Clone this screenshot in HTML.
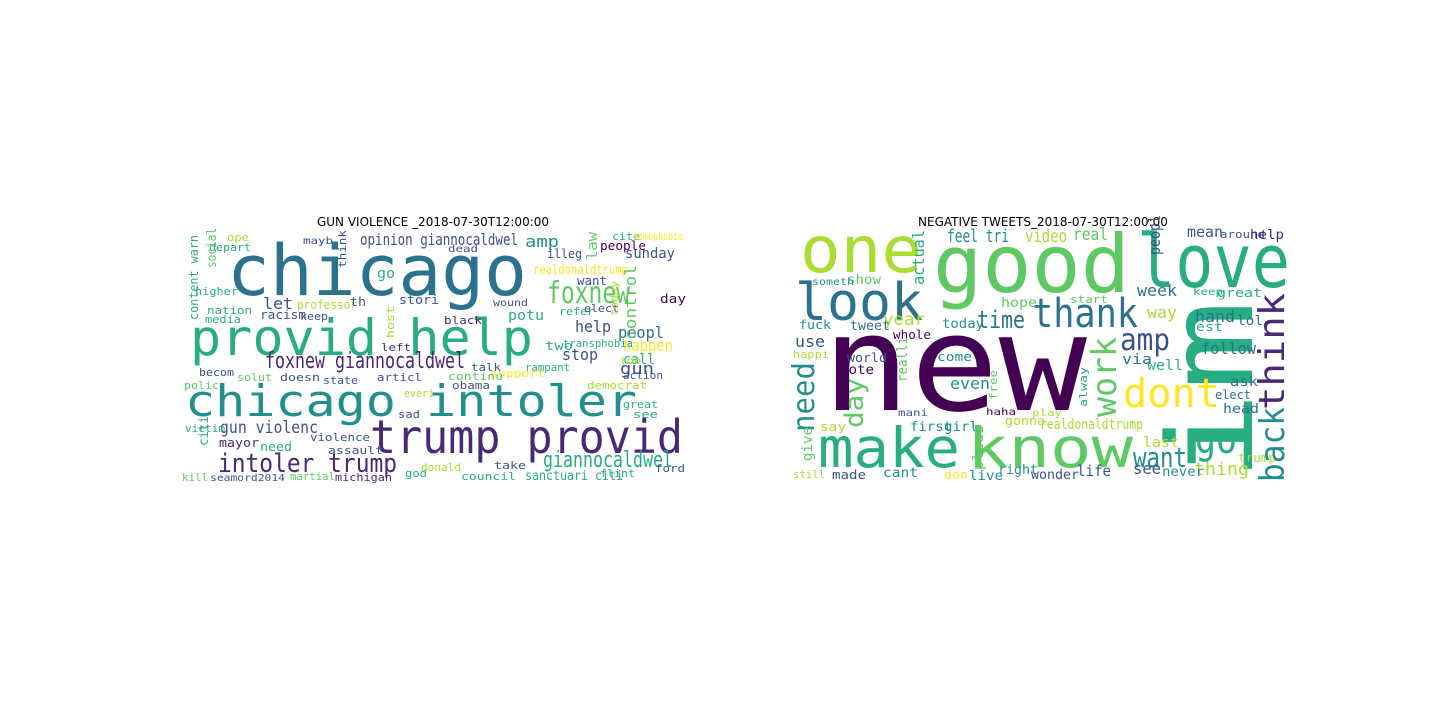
<!DOCTYPE html>
<html><head><meta charset="utf-8"><style>
html,body{margin:0;padding:0;background:#fff;}
svg{display:block}
text{font-family:"DejaVu Sans Mono","Liberation Mono",monospace;}
.t{font-family:"DejaVu Sans","Liberation Sans",sans-serif;font-size:12px;fill:#000}
</style></head><body>
<svg id="s" width="1440" height="720">
<text class="t" x="433" y="226" text-anchor="middle">GUN VIOLENCE _2018-07-30T12:00:00</text>
<text class="t" x="1043" y="226" text-anchor="middle">NEGATIVE TWEETS_2018-07-30T12:00:00</text>
<g id="L"></g>
<g id="R"></g>
</svg>
<script>
// [word, x, y(baseline), size, width, color, rotated]
const P='#440154',B='#3b528b',T='#21908d',TT='#2c728e',G='#27ad81',LG='#5ec962',Y='#fde725',YG='#aadc32',DP='#482878';
const leftWords=[
['chicago',227,295,70,300,TT,0],
['provid help',190,355,50,343,G,0],
['chicago intoler',185,416,44,452,T,0],
['trump provid',370,453,46,313,DP,0],
['intoler trump',218,472,26,179,DP,0],
['foxnew giannocaldwel',265,368,22,200,DP,0],
['foxnew',547,303,30,83,LG,0],
['giannocaldwel',543,467,22,130,G,0],
['gun violenc',220,433,17,98,B,0],
['opinion giannocaldwel',360,245,16,158,B,0],
['realdonaldtrump',533,274,13,95,Y,0],
['amp',525,247,16,34,T,0],
['let',263,309,16,30,B,0],
['help',575,332,16,36,B,0],
['peopl',618,338,16,46,TT,0],
['happen',623,351,16,50,Y,0],
['stop',562,360,16,36,B,0],
['gun',620,374,16,34,B,0],
['call',623,364,14,32,G,0],
['sanctuari citi',525,480,13,98,G,0],
['sunday',625,258,14,50,B,0],
['people',600,250,12,46,P,0],
['professor',297,309,12,60,YG,0],
['racism',260,319,12,46,B,0],
['stori',399,304,12,40,B,0],
['mayor',219,447,12,40,DP,0],
['need',260,451,12,32,G,0],
['assault',328,454,11,55,B,0],
['violence',310,441,11,60,B,0],
['doesn',280,381,11,40,B,0],
['articl',377,381,11,45,B,0],
['democrat',587,389,11,60,YG,0],
['support',490,377,11,55,Y,0],
['continu',448,380,11,55,LG,0],
['obama',452,389,11,38,B,0],
['michigan',335,481,11,57,DP,0],
['martial',290,480,11,45,LG,0],
['seamord2014',210,481,10,75,B,0],
['kill',182,481,11,26,LG,0],
['victim',185,432,11,40,G,0],
['polic',184,389,11,35,LG,0],
['becom',199,376,11,35,B,0],
['solut',237,381,11,35,LG,0],
['media',205,323,11,36,G,0],
['nation',207,314,11,45,G,0],
['higher',195,295,11,43,G,0],
['depart',209,251,11,42,G,0],
['ope',227,241,11,22,YG,0],
['two',545,350,12,28,G,0],
['transphobia',563,347,11,70,G,0],
['rampant',525,371,11,45,G,0],
['potu',508,320,14,36,G,0],
['refer',559,315,11,35,G,0],
['elect',584,312,11,35,B,0],
['want',577,285,12,30,B,0],
['illeg',547,258,12,35,B,0],
['cite',612,240,11,28,G,0],
['homophobia',633,240,11,50,Y,0],
['day',660,303,12,26,P,0],
['action',623,379,11,40,B,0],
['great',623,408,11,35,G,0],
['see',633,418,11,25,G,0],
['ford',655,472,11,30,B,0],
['flint',600,477,11,35,G,0],
['council',461,480,11,55,G,0],
['god',405,477,11,22,G,0],
['donald',421,471,11,40,YG,0],
['take',494,469,11,32,B,0],
['black',444,324,11,38,DP,0],
['left',381,351,11,30,DP,0],
['talk',471,371,11,30,B,0],
['state',323,384,11,35,B,0],
['sad',398,418,11,22,B,0],
['everi',404,397,11,30,YG,0],
['go',377,278,14,18,G,0],
['th',350,306,12,16,B,0],
['keep',300,320,11,28,B,0],
['wound',493,306,10,35,B,0],
['dead',448,252,10,30,B,0],
['mayb',303,244,10,30,B,0],
['job',619,364,10,22,YG,0],
['control',636,340,16,75,LG,1],
['law',597,260,14,28,LG,1],
['social',216,268,13,40,LG,1],
['content warn',198,320,12,85,G,1],
['citi',208,446,13,30,G,1],
['host',394,338,11,32,YG,1],
['think',346,268,11,38,B,1],
['today',618,316,11,35,YG,1]
];
const rightWords=[
['new',822,410,133,265,P,0],
['im',1252,482,118,182,G,1],
['good',933,292,80,197,LG,0],
['love',1137,287,74,153,G,0],
['one',800,272,64,122,YG,0],
['look',795,320,52,128,TT,0],
['thank',1032,327,40,106,TT,0],
['make',818,467,55,142,G,0],
['know',967,467,55,166,LG,0],
['dont',1123,407,40,97,Y,0],
['amp',1120,350,30,50,B,0],
['time',977,328,24,48,TT,0],
['go',1195,453,42,42,G,0],
['want',1133,467,28,54,T,0],
['feel tri',947,242,18,62,T,0],
['video',1025,242,18,42,YG,0],
['real',1073,240,17,35,LG,0],
['year',883,325,17,42,YG,0],
['week',1137,296,16,40,TT,0],
['way',1147,318,16,30,YG,0],
['hand',1195,322,16,40,TT,0],
['lol',1237,325,13,26,TT,0],
['follow',1201,354,16,55,TT,0],
['even',950,389,16,40,T,0],
['see',1133,474,16,28,B,0],
['thing',1194,475,18,55,YG,0],
['life',1077,476,15,34,B,0],
['wonder',1031,479,13,48,B,0],
['right',998,474,13,40,T,0],
['live',969,480,13,34,T,0],
['don',944,479,12,24,Y,0],
['cant',883,477,13,35,T,0],
['made',832,479,12,34,B,0],
['still',793,478,11,32,YG,0],
['first',910,431,13,42,T,0],
['girl',944,431,13,34,T,0],
['realdonaldtrump',1040,429,14,103,YG,0],
['gonna',1005,425,12,40,YG,0],
['last',1143,447,14,36,YG,0],
['never',1162,476,13,42,T,0],
['trump',1238,462,12,38,YG,0],
['head',1223,413,13,36,TT,0],
['elect',1215,399,12,36,TT,0],
['ask',1230,386,13,28,TT,0],
['well',1147,370,14,36,G,0],
['via',1122,364,14,30,TT,0],
['best',1187,331,12,36,G,0],
['great',1217,297,12,45,G,0],
['keep',1193,295,10,30,G,0],
['mean',1187,237,15,36,B,0],
['around',1220,238,11,45,B,0],
['help',1250,239,13,34,DP,0],
['peopl',1160,255,16,40,B,1],
['actual',924,285,16,55,G,1],
['hope',1001,307,13,36,LG,0],
['start',1070,303,11,38,LG,0],
['today',942,328,13,42,T,0],
['tweet',850,330,13,40,TT,0],
['fuck',799,329,12,32,T,0],
['whole',893,339,12,38,P,0],
['use',795,347,16,30,B,0],
['happi',793,358,11,36,YG,0],
['world',847,362,12,40,B,0],
['vote',840,374,13,34,P,0],
['come',937,361,12,35,T,0],
['say',820,431,12,26,YG,0],
['mani',898,416,10,30,B,0],
['play',1032,416,10,30,YG,0],
['haha',986,415,10,30,P,0],
['show',847,284,13,34,LG,0],
['someth',812,285,10,42,T,0],
['work',1116,417,34,80,LG,1],
['think',1284,410,36,117,DP,1],
['back',1284,482,34,75,T,1],
['need',814,432,30,70,T,1],
['day',863,428,26,50,LG,1],
['realli',907,382,14,45,LG,1],
['give',812,461,14,34,LG,1],
['pleas',983,470,14,45,LG,1],
['free',997,400,11,30,LG,1],
['alway',1087,407,11,40,G,1]
];
function draw(gid,arr){
  const g=document.getElementById(gid);
  arr.forEach(w=>{
    const t=document.createElementNS('http://www.w3.org/2000/svg','text');
    
    
    t.setAttribute('x',w[1]);t.setAttribute('y',w[2]);
    t.setAttribute('font-size',w[3]);
    t.setAttribute('textLength',w[4]);
    t.setAttribute('lengthAdjust','spacingAndGlyphs');
    t.setAttribute('fill',w[5]);
    if(w[6]){
      t.setAttribute('transform','rotate(-90 '+w[1]+' '+w[2]+')');
    }
    t.textContent=w[0];
    g.appendChild(t);
  });
}
draw('L',leftWords);
draw('R',rightWords);
</script>
</body></html>
